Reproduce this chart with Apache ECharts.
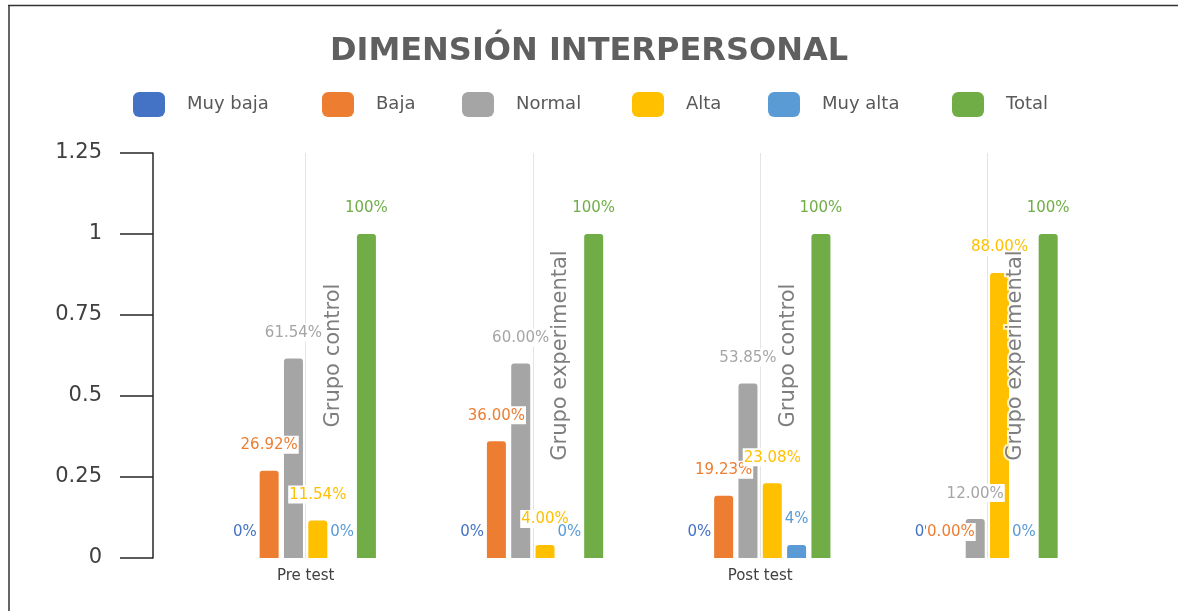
<!DOCTYPE html>
<html>
<head>
<meta charset="utf-8">
<script src="https://cdn.jsdelivr.net/npm/echarts@6/dist/echarts.min.js"></script>
<style>
html,body{margin:0;padding:0;background:#fff;}
#chart{width:1178px;height:611px;}
</style>
</head>
<body>
<div id="chart"></div>
<script>
const categories = ['Pre test', 'Pre test', 'Post test', 'Post test'];
const groups = ['Grupo control', 'Grupo experimental', 'Grupo control', 'Grupo experimental'];
const seriesNames = ['Muy baja', 'Baja', 'Normal', 'Alta', 'Muy alta', 'Total'];
const seriesColors = ['#4472C4', '#ED7D31', '#A5A5A5', '#FFC000', '#5B9BD5', '#70AD47'];

const muyBaja = [0, 0, 0, 0];
const baja = [0.2692, 0.36, 0.1923, 0];
const normal = [0.6154, 0.60, 0.5385, 0.12];
const alta = [0.1154, 0.04, 0.2308, 0.88];
const muyAlta = [0, 0, 0.04, 0];
const total = [1, 1, 1, 1];

const muyBajaLabels = ['0%', '0%', '0%', '0%'];
const bajaLabels = ['26.92%', '36.00%', '19.23%', '0.00%'];
const normalLabels = ['61.54%', '60.00%', '53.85%', '12.00%'];
const altaLabels = ['11.54%', '4.00%', '23.08%', '88.00%'];
const muyAltaLabels = ['0%', '0%', '4%', '0%'];
const totalLabels = ['100%', '100%', '100%', '100%'];

const yMin = 0, yMax = 1.25, yStep = 0.25;

const values = [muyBaja, baja, normal, alta, muyAlta, total];
const labels = [muyBajaLabels, bajaLabels, normalLabels, altaLabels, muyAltaLabels, totalLabels];

const legendLefts = [133, 322, 462, 632, 768, 952];

const chart = echarts.init(document.getElementById('chart'));

const barSeries = seriesNames.map((name, s) => ({
  name: name,
  type: 'bar',
  barWidth: 19,
  barGap: '28%',
  z: 2,
  itemStyle: { color: seriesColors[s], borderRadius: [3, 3, 0, 0] },
  label: {
    show: true,
    position: 'top',
    distance: 17,
    formatter: (p) => labels[s][p.dataIndex],
    color: seriesColors[s],
    fontFamily: 'DejaVu Sans',
    fontSize: 15,
    backgroundColor: '#fff',
    padding: [2, 1, 1, 1]
  },
  data: values[s]
}));

const groupSeries = {
  name: 'grupos',
  type: 'scatter',
  symbolSize: 0,
  silent: true,
  z: 3,
  legendHoverLink: false,
  label: {
    show: true,
    position: 'inside',
    formatter: '{b}',
    rotate: 90,
    offset: [0, 28],
    color: '#5e5e5e',
    fontFamily: 'DejaVu Sans',
    fontSize: 21,
    textBorderColor: '#fff',
    textBorderWidth: 4
  },
  markLine: {
    silent: true,
    z: 1,
    symbol: ['none', 'none'],
    label: { show: false },
    lineStyle: { color: '#e4e4e4', type: 'solid', width: 1 },
    data: categories.map((c, i) => ({ xAxis: i }))
  },
  data: groups.map((g, i) => ({ name: g, value: [i, (yMin + yMax) / 2] }))
};

const legends = seriesNames.map((name, s) => ({
  data: [name],
  left: legendLefts[s],
  top: 92,
  padding: 0,
  itemWidth: 32,
  itemHeight: 25,
  icon: 'roundRect',
  selectedMode: false,
  textStyle: {
    color: '#595959',
    fontFamily: 'DejaVu Sans',
    fontSize: 18,
    padding: [0, 0, 0, 17]
  }
}));

chart.setOption({
  animation: false,
  backgroundColor: '#fff',
  title: {
    text: 'DIMENSIÓN INTERPERSONAL',
    left: 'center',
    top: 36,
    padding: 0,
    textStyle: {
      color: '#5f5f5f',
      fontFamily: 'DejaVu Sans',
      fontWeight: 'bold',
      fontSize: 32
    }
  },
  legend: legends,
  grid: { left: 192, right: 77, top: 153, bottom: 53, containLabel: false },
  xAxis: {
    type: 'category',
    data: categories,
    axisLine: { show: false },
    axisTick: { show: false },
    splitLine: { show: false },
    axisLabel: {
      interval: 1,
      margin: 11,
      color: '#404040',
      fontFamily: 'DejaVu Sans',
      fontSize: 15
    }
  },
  yAxis: {
    type: 'value',
    min: yMin,
    max: yMax,
    interval: yStep,
    offset: 39,
    axisLine: { show: true, lineStyle: { color: '#262626', width: 1.5 } },
    axisTick: { show: true, length: 33, lineStyle: { color: '#262626', width: 1.5 } },
    splitLine: { show: false },
    axisLabel: {
      margin: 51,
      color: '#404040',
      fontFamily: 'DejaVu Sans',
      fontSize: 21
    }
  },
  graphic: [
    { type: 'line', shape: { x1: 8, y1: 5.5, x2: 1178, y2: 5.5 }, style: { stroke: '#333', lineWidth: 1.5 } },
    { type: 'line', shape: { x1: 9, y1: 5, x2: 9, y2: 611 }, style: { stroke: '#333', lineWidth: 1.5 } }
  ],
  series: [groupSeries].concat(barSeries)
});
</script>
</body>
</html>
